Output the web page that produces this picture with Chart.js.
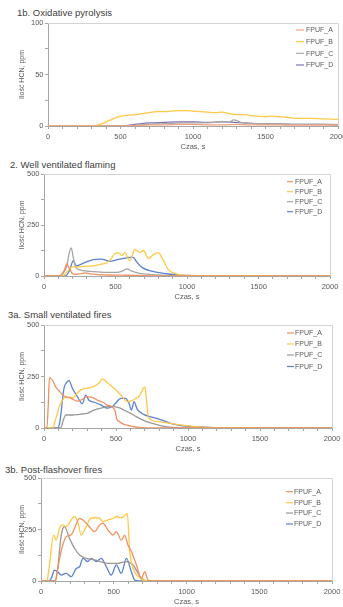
<!DOCTYPE html>
<html><head><meta charset="utf-8">
<script src="https://cdn.jsdelivr.net/npm/chart.js@4.4.0/dist/chart.umd.min.js"></script>
<style>
html,body{margin:0;padding:0;background:#fff;width:343px;height:607px;overflow:hidden;position:relative;font-family:"Liberation Sans",Arial,sans-serif}
.ttl{position:absolute;font-size:9.5px;color:#404040;white-space:nowrap;line-height:10px;font-family:"Liberation Sans",Arial,sans-serif}
canvas{position:absolute;left:0}
</style></head><body>
<script>
// ---------- DATA ----------
const seriesNames = ['FPUF_A','FPUF_B','FPUF_C','FPUF_D'];
const panelTitles = ['1b. Oxidative pyrolysis','2. Well ventilated flaming','3a. Small ventilated fires','3b. Post-flashover fires'];
const xTickLabels = [0,500,1000,1500,2000];
const yTickLabels1 = [0,50,100];
const yTickLabels2 = [0,250,500];

// Panel 1b
const t1A = [0,500,600,700,800,900,1000,1100,1200,1300,1400,1500,1600,1700,1800,1900,2000];
const v1A = [0,0,0.5,1,1,1.5,1.5,1,1,1.5,1,1,1,0.8,0.8,0.8,0.8];
const t1B = [0,300,330,360,400,450,500,550,600,650,700,750,800,850,900,950,1000,1050,1100,1150,1200,1250,1300,1350,1400,1450,1500,1550,1600,1650,1700,1800,1900,2000];
const v1B = [0,0,0.5,1.5,4,7,9.5,10.5,11,12,13,14,14,14.5,15,15,14.5,14,13.5,13,13.5,12,11,11,10,9.5,9,9.5,9,8.5,7.5,7.5,7,6.5];
const t1C = [0,550,650,750,850,950,1050,1150,1200,1250,1280,1300,1330,1400,1500,1600,1700,1800,1900,2000];
const v1C = [0,0,1,2,2.5,3,3,3.5,4.5,3.5,6,5.5,3.5,2.5,2,2,1.5,1.5,1.5,1.5];
const t1D = [0,500,600,700,800,900,1000,1100,1200,1300,1400,1500,1600,1700,1800,1900,2000];
const v1D = [0,0,1.5,3,3.5,4,4,3.5,4,3.5,2.5,2,2,1.5,1.5,1.5,1];

// Panel 2
const t2A = [0,110,140,160,175,195,220,260,290,320,380,450,550,650,750,850,2000];
const v2A = [0,0,25,60,40,15,8,12,15,10,7,5,4,3,1,0,0];
const t2B = [0,130,160,200,250,300,345,400,440,470,490,520,545,565,600,635,670,695,730,765,800,820,840,860,880,905,950,1000,1100,1300,1600,2000];
const v2B = [0,0,20,45,45,48,50,58,65,85,106,115,100,115,75,130,115,125,85,105,115,95,70,40,25,15,6,3,2,2,1,1];
const t2C = [0,100,130,160,175,190,205,220,250,320,380,440,510,550,580,610,670,765,860,950,2000];
const v2C = [0,0,10,50,110,138,90,45,30,23,20,18,18,25,35,25,13,7,3,0,0];
const t2D = [0,150,180,205,225,250,300,345,400,460,500,530,570,610,630,645,690,760,860,930,1000,1100,1250,2000];
const v2D = [0,0,30,75,50,55,70,80,83,72,78,83,88,93,88,72,40,23,11,5,3,2,0,0];

// Panel 3a
const t3A = [0,20,30,38,58,81,116,139,185,231,270,300,330,370,410,440,470,495,505,525,555,590,625,680,750,2000];
const v3A = [0,0,120,245,233,200,172,155,145,130,140,152,150,135,125,110,104,80,45,30,18,12,6,2,0,0];
const t3B = [0,60,80,110,139,170,200,220,255,300,340,382,405,440,486,532,579,610,640,660,690,700,710,725,780,850,945,1035,1130,1300,1500,1600,2000];
const v3B = [0,0,40,110,144,150,145,160,185,193,200,218,238,220,193,161,128,132,145,153,193,200,150,50,32,25,15,8,3,2,1,0,0];
const t3C = [0,115,135,150,200,231,260,300,347,394,440,486,530,560,600,640,700,764,833,900,1000,2000];
const v3C = [0,0,40,63,63,65,68,71,87,96,104,104,96,85,72,55,35,20,8,3,0,0];
const t3D = [0,95,110,139,162,174,197,231,266,289,312,350,394,440,475,498,532,567,590,607,625,648,695,764,833,890,950,1050,1150,1250,2000];
const v3D = [0,0,30,193,225,230,193,153,118,160,135,125,112,96,104,120,144,144,120,87,128,90,65,50,35,20,12,6,3,0,0];

// Panel 3b
const t4A = [0,100,115,140,173,207,230,265,288,322,368,403,426,460,495,518,552,575,598,621,656,690,713,736,780,2000];
const v4A = [0,0,60,150,215,223,255,304,296,272,240,272,280,248,223,240,198,223,174,143,78,13,45,5,0,0];
const t4B = [0,40,55,87,104,127,150,175,207,230,253,276,311,340,368,403,426,460,495,518,552,580,593,610,633,667,700,750,2000];
const v4B = [0,0,60,223,198,255,272,265,296,313,288,223,264,304,307,304,288,296,304,313,307,320,328,143,62,21,5,0,0];
const t4C = [0,95,115,135,150,161,196,230,265,311,368,460,529,587,633,667,690,740,2000];
const v4C = [0,0,60,200,255,264,207,159,126,110,102,86,86,94,78,37,13,0,0];
const t4D = [0,55,75,92,115,138,173,207,242,265,288,322,345,380,414,449,483,518,552,587,621,644,680,2000];
const v4D = [0,0,20,53,45,29,37,21,61,69,110,94,110,94,110,69,29,78,37,110,45,5,0,0];

const panelSeries = [
  [[t1A,v1A],[t1B,v1B],[t1C,v1C],[t1D,v1D]],
  [[t2A,v2A],[t2B,v2B],[t2C,v2C],[t2D,v2D]],
  [[t3A,v3A],[t3B,v3B],[t3C,v3C],[t3D,v3D]],
  [[t4A,v4A],[t4B,v4B],[t4C,v4C],[t4D,v4D]]
];
const yMaxes = [100,500,500,500];
const yLabelSets = [yTickLabels1,yTickLabels2,yTickLabels2,yTickLabels2];

// ---------- LAYOUT / STYLE ----------
const FONT = '"Liberation Sans", Arial, sans-serif';
const colorSets = [
  ['#F2A27A','#FFC845','#AAAAAA','#7A72B8'],
  ['#F0905E','#FFC845','#A5A5A5','#5B82D0'],
  ['#F0905E','#FFC845','#999999','#5B82D0'],
  ['#F0905E','#FFC845','#A09890','#5B82D0']
];
const layouts = [
  {left:48,right:338,top:23,bottom:126,tx:17,ty:13,ly:[30,41.7,53.3,65],lx0:296,lx1:304,ltx:306},
  {left:44,right:330,top:174,bottom:276,tx:10,ty:165,ly:[181.7,191.7,201.7,211.7],lx0:287,lx1:293,ltx:295},
  {left:44,right:332,top:325,bottom:428,tx:8,ty:315,ly:[333,344,355,366.5],lx0:287,lx1:294,ltx:295},
  {left:41,right:332,top:478,bottom:581,tx:5,ty:470,ly:[491.7,502.7,513,524],lx0:286,lx1:293,ltx:294}
];
const PADTOP = 10, XBOX = 26;

const boxLegend = {
  id:'boxLegend',
  afterDraw(chart, args, opts){
    const ctx = chart.ctx, a = chart.chartArea;
    ctx.save();
    ctx.strokeStyle = '#D4D4D4'; ctx.lineWidth = 1;
    ctx.beginPath();
    ctx.moveTo(a.left, a.top+0.5); ctx.lineTo(a.right+0.5, a.top+0.5); ctx.lineTo(a.right+0.5, a.bottom);
    ctx.stroke();
    ctx.font = '7px ' + FONT; ctx.textBaseline = 'middle'; ctx.fillStyle = '#595959';
    chart.data.datasets.forEach((ds,i)=>{
      const y = opts.ly[i] - opts.off;
      ctx.strokeStyle = ds.borderColor; ctx.lineWidth = 1.2;
      ctx.beginPath(); ctx.moveTo(opts.lx0, y); ctx.lineTo(opts.lx1, y); ctx.stroke();
      ctx.fillText(ds.label, opts.ltx, y + 0.5);
    });
    ctx.restore();
  }
};

layouts.forEach((L, p)=>{
  const ttl = document.createElement('div');
  ttl.className = 'ttl'; ttl.textContent = panelTitles[p];
  ttl.style.left = L.tx + 'px'; ttl.style.top = (L.ty - 5) + 'px';
  document.body.appendChild(ttl);

  const cTop = L.top - PADTOP;
  const h = (L.bottom - L.top) + PADTOP + XBOX;
  const cv = document.createElement('canvas');
  cv.width = 343; cv.height = h;
  cv.style.width = '343px'; cv.style.height = h + 'px'; cv.style.top = cTop + 'px';
  document.body.appendChild(cv);

  const yMax = yMaxes[p];
  const yLabs = yLabelSets[p];
  new Chart(cv.getContext('2d'), {
    type:'line',
    data:{datasets: panelSeries[p].map((s,i)=>({
      label: seriesNames[i],
      data: s[0].map((x,k)=>({x:x, y:s[1][k]})),
      borderColor: colorSets[p][i], borderWidth:1.3, pointRadius:0,
      cubicInterpolationMode:'monotone', fill:false
    }))},
    options:{
      responsive:false, animation:false, devicePixelRatio:1,
      layout:{padding:{top:PADTOP,left:0,right:343-L.right,bottom:0}},
      plugins:{legend:{display:false}, tooltip:{enabled:false},
        boxLegend:{ly:L.ly, off:cTop, lx0:L.lx0, lx1:L.lx1, ltx:L.ltx}},
      scales:{
        x:{type:'linear', min:0, max:2000,
          ticks:{stepSize:100, autoSkip:false, maxRotation:0, color:'#595959', padding:3.5,
            font:{size:7.5, family:FONT},
            callback:(v)=> xTickLabels.includes(v) ? String(v) : ''},
          grid:{drawOnChartArea:false, drawTicks:true, tickLength:3, color:'#A6A6A6'},
          border:{color:'#A6A6A6'},
          title:{display:true, text:'Czas, s', color:'#595959', font:{size:7.5, family:FONT}, padding:{top:0,bottom:1}},
          afterFit(s){ s.height = XBOX; s.paddingLeft = 0; s.paddingRight = 0; }
        },
        y:{min:0, max:yMax,
          ticks:{stepSize:yMax/4, autoSkip:false, color:'#595959', padding:1.5,
            font:{size:7.5, family:FONT},
            callback:(v)=> yLabs.includes(v) ? String(v) : ''},
          grid:{drawOnChartArea:false, drawTicks:true, tickLength:3, color:'#A6A6A6'},
          border:{color:'#A6A6A6'},
          title:{display:true, text:'Ilość HCN, ppm', color:'#595959', font:{size:7, family:FONT}, padding:{top:17.5,bottom:0}},
          afterFit(s){ s.width = L.left; s.paddingTop = 0; s.paddingBottom = 0; }
        }
      }
    },
    plugins:[boxLegend]
  });
});
</script>
</body></html>
